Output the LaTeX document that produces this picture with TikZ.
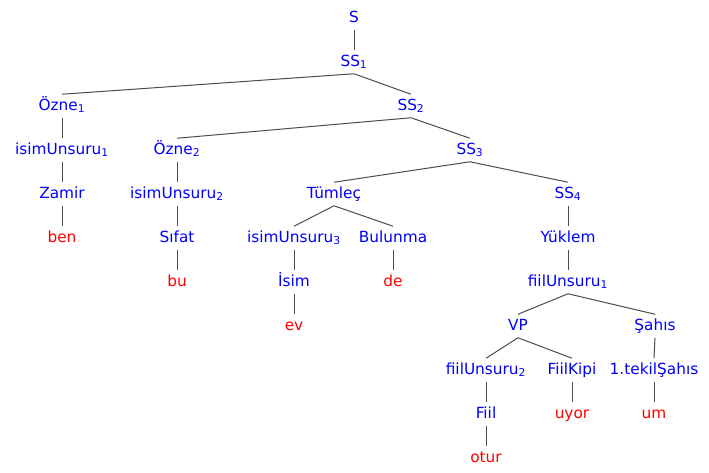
\documentclass[tikz,border=0pt]{standalone}
\usepackage{fontspec}
\setmainfont{DejaVu Sans}
\begin{document}
\begin{tikzpicture}[x=0.75pt,y=-0.75pt,
    cat/.style={text=blue,font=\fontsize{11.5}{13}\selectfont,inner sep=0pt,
      text height=8.6pt,text depth=2.3pt,minimum height=17.25pt},
    word/.style={cat,text=red},
    branch/.style={draw=black!70,line width=0.75pt}]
    \useasboundingbox (0,0) rectangle (709,472);

    \node[cat] (s) at (354,18) {S};
    \node[cat] (ss1) at (354,62) {SS\textsubscript{1}};
    \node[cat] (ozne1) at (62,106) {Özne\textsubscript{1}};
    \node[cat] (ss2) at (411,106) {SS\textsubscript{2}};
    \node[cat] (isim1) at (62,150) {isimUnsuru\textsubscript{1}};
    \node[cat] (ozne2) at (177,150) {Özne\textsubscript{2}};
    \node[cat] (ss3) at (470,150) {SS\textsubscript{3}};
    \node[cat] (zamir) at (62,194) {Zamir};
    \node[cat] (isim2) at (177,194) {isimUnsuru\textsubscript{2}};
    \node[cat] (tumlec) at (334,194) {Tümleç};
    \node[cat] (ss4) at (568,194) {SS\textsubscript{4}};
    \node[word] (ben) at (62,238) {ben};
    \node[cat] (sifat) at (177,238) {Sıfat};
    \node[cat] (isim3) at (294,238) {isimUnsuru\textsubscript{3}};
    \node[cat] (bulunma) at (393,238) {Bulunma};
    \node[cat] (yuklem) at (568,238) {Yüklem};
    \node[word] (bu) at (177,282) {bu};
    \node[cat] (isim) at (294,282) {İsim};
    \node[word] (de) at (393,282) {de};
    \node[cat] (fiil1) at (568,282) {fiilUnsuru\textsubscript{1}};
    \node[word] (ev) at (294,326) {ev};
    \node[cat] (vp) at (518,326) {VP};
    \node[cat] (sahis) at (655,326) {Şahıs};
    \node[cat] (fiil2) at (486,370) {fiilUnsuru\textsubscript{2}};
    \node[cat] (kipi) at (572,370) {FiilKipi};
    \node[cat] (tekil) at (654,370) {1.tekilŞahıs};
    \node[cat] (fiil) at (486,414) {Fiil};
    \node[word] (uyor) at (572,414) {uyor};
    \node[word] (um) at (654,414) {um};
    \node[word] (otur) at (486,458) {otur};

    \foreach \a/\b in {s/ss1, ss1/ozne1, ss1/ss2, ozne1/isim1, isim1/zamir,
        zamir/ben, ss2/ozne2, ss2/ss3, ozne2/isim2, isim2/sifat, sifat/bu,
        ss3/tumlec, ss3/ss4, tumlec/isim3, tumlec/bulunma, isim3/isim, isim/ev,
        bulunma/de, ss4/yuklem, yuklem/fiil1, fiil1/vp, fiil1/sahis, vp/fiil2,
        vp/kipi, fiil2/fiil, fiil/otur, kipi/uyor, sahis/tekil, tekil/um}
        \draw[branch] (\a.south) -- (\b.north);
\end{tikzpicture}
\end{document}
